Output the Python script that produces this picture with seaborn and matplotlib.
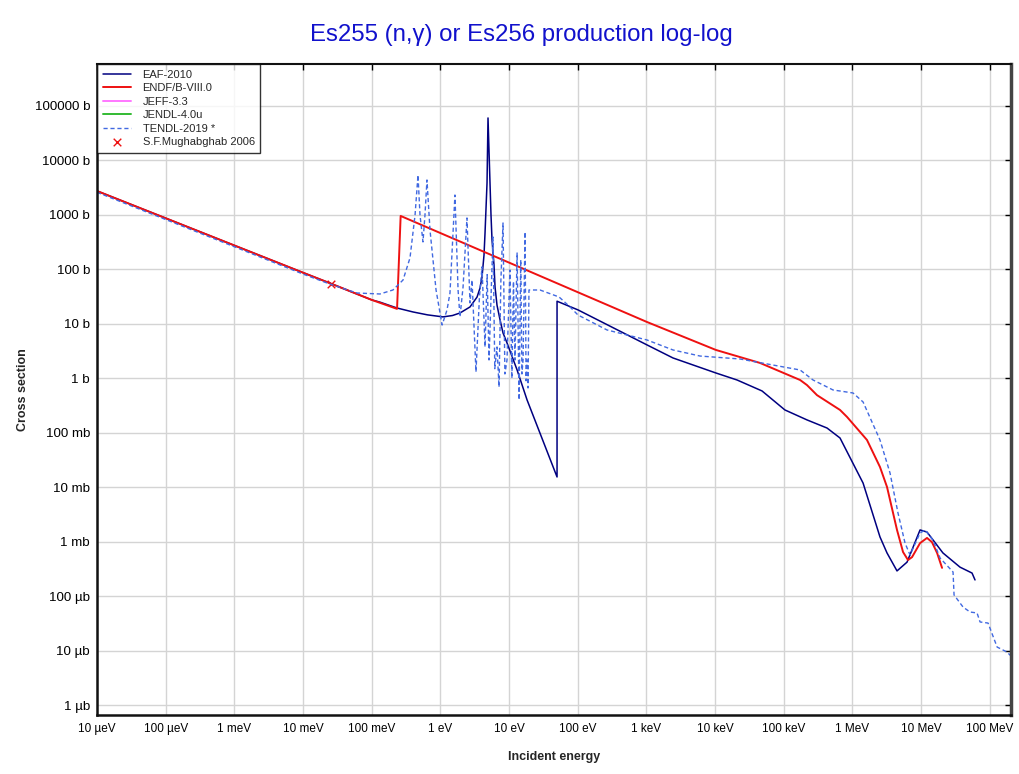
import numpy as np
import pandas as pd
import seaborn as sns
import matplotlib
matplotlib.use("Agg")
import matplotlib.pyplot as plt
import matplotlib.lines as mlines

# energies in eV, cross sections in barns
eaf_e = [1e-5, 1e-4, 1e-3, 1e-2, 0.0253, 0.1, 0.132, 0.234, 0.40, 0.65, 1.09, 1.5, 1.93, 2.70,
         3.42, 3.78, 4.04, 4.32, 4.47, 4.78, 4.94, 5.28, 5.46, 5.65, 6.04, 6.25, 6.68, 7.40,
         8.17, 9.35, 13.1, 18.3, 50.0, 50.0, 101, 1020, 2440, 10300, 20900, 48300, 1.04e5,
         2.18e5, 4.27e5, 6.6e5, 1.43e6, 2.52e6, 3.19e6, 4.46e6, 6.24e6, 9.66e6, 1.22e7,
         2.08e7, 3.69e7, 5.52e7, 6.1e7]
eaf_xs = [2750, 870, 275, 87, 55, 27.5, 25, 19.5, 16.5, 14.6, 13.4, 14.2, 15.8, 20.4,
          31, 45.5, 72, 184, 466, 3860, 60300, 3860, 1000, 347, 120, 47.5, 22, 11.8,
          6.8, 4.45, 1.42, 0.40, 0.0154, 26, 18, 4.1, 2.36, 1.25, 0.93, 0.585, 0.262,
          0.172, 0.122, 0.080, 0.0119, 1.22e-3, 6.2e-4, 2.9e-4, 4.2e-4, 1.64e-3, 1.5e-3,
          6.2e-4, 3.4e-4, 2.65e-4, 1.98e-4]

endf_e = [1e-5, 1e-4, 1e-3, 1e-2, 0.0253, 0.1, 0.234, 0.264, 1020, 10300, 45200, 1.73e5,
          2.18e5, 3.05e5, 6.6e5, 8.35e5, 1.63e6, 2.52e6, 3.19e6, 4.46e6, 5.46e6, 6.45e6,
          7.39e6, 9.66e6, 1.22e7, 1.44e7, 1.71e7, 2.02e7]
endf_xs = [2750, 870, 275, 87, 55, 27.5, 18.8, 957, 10.8, 3.31, 1.91, 0.93,
           0.75, 0.49, 0.262, 0.195, 0.0736, 0.0235, 0.0101, 1.64e-3, 6.45e-4, 4.6e-4,
           5.2e-4, 9.4e-4, 1.17e-3, 9.8e-4, 6.2e-4, 3.3e-4]

tendl_e = [1e-5, 1e-4, 1e-3, 1e-2, 0.0253, 0.0611, 0.132, 0.204, 0.286, 0.361, 0.428, 0.472,
           0.505, 0.558, 0.597, 0.638, 0.706, 0.865, 1.06, 1.25, 1.38, 1.63, 1.81, 1.93, 2.14,
           2.44, 2.70, 2.89, 3.30, 3.7, 4.04, 4.47, 4.8, 5.11, 5.5, 5.84, 6.2, 6.68, 7.15, 7.6,
           8.17, 8.7, 9.34, 10.3, 11.0, 11.6, 12.2, 13.1, 14.0, 14.8, 15.4, 16.0, 17.1, 17.7,
           18.3, 18.9, 19.5, 28.2, 53.5, 77.3, 101, 267, 1020, 2440,
           6040, 23100, 69800, 1.73e5, 2.67e5, 5.22e5, 1.02e6, 1.43e6, 2.52e6, 3.53e6, 4.61e6,
           5.84e6, 6.90e6, 9.66e6, 1.14e7, 1.49e7, 1.89e7, 2.92e7, 3.02e7, 4.08e7, 5.16e7,
           6.53e7, 7.22e7, 9.44e7, 1.28e8, 1.78e8, 2.11e8]
tendl_xs = [2600, 823, 260, 82, 53, 36.8, 35.3, 41.8, 63.8, 162, 998, 5400,
            998, 319, 998, 4380, 528, 41.8, 9.5, 18, 36.8, 2320, 41.8, 13.4, 47.5,
            879, 24.2, 63.8, 1.31, 30, 111, 3.76, 80, 2.17, 40, 393, 1.5, 3.76, 0.692, 60,
            711, 1.2, 2.17, 97.5, 1.0, 60, 2.17, 200, 0.40, 150, 1.2, 2.17, 486, 0.9,
            2.17, 0.664, 41.8, 41.8, 31.1, 20.4, 14.5, 7.71, 5.05, 3.31,
            2.56, 2.26, 1.75, 1.42, 0.93, 0.61, 0.537, 0.367, 0.0736, 0.0182, 3.36e-3,
            9.4e-4, 5.7e-4, 1.44e-3, 1.64e-3, 1.07e-3, 5.0e-4, 2.77e-4, 1.05e-4, 6.3e-5, 5.1e-5,
            4.9e-5, 3.35e-5, 3.2e-5, 1.16e-5, 9.4e-6, 7.6e-6]

mugh_e = [0.0253]
mugh_xs = [54]

x_ticks = [1e-5, 1e-4, 1e-3, 1e-2, 1e-1, 1, 10, 100, 1e3, 1e4, 1e5, 1e6, 1e7, 1e8]
x_labels = ["10 µeV", "100 µeV", "1 meV", "10 meV", "100 meV", "1 eV", "10 eV", "100 eV",
            "1 keV", "10 keV", "100 keV", "1 MeV", "10 MeV", "100 MeV"]
y_ticks = [1e-6, 1e-5, 1e-4, 1e-3, 1e-2, 1e-1, 1, 10, 100, 1e3, 1e4, 1e5]
y_labels = ["1 µb", "10 µb", "100 µb", "1 mb", "10 mb", "100 mb", "1 b", "10 b", "100 b",
            "1000 b", "10000 b", "100000 b"]

sns.set_style("white")
plt.rcParams['font.family'] = ['Liberation Sans', 'DejaVu Sans']

fig = plt.figure(figsize=(10.2, 7.74), dpi=100)
ax = fig.add_axes([0.0951, 0.0762, 0.8961, 0.8411])
ax.set_xscale('log')
ax.set_yscale('log')

sns.lineplot(x=eaf_e, y=eaf_xs, sort=False, estimator=None, color='#000080', lw=1.1,
             label='EAF-2010', ax=ax)
sns.lineplot(x=endf_e, y=endf_xs, sort=False, estimator=None, color='#ee1111', lw=1.4,
             label='ENDF/B-VIII.0', ax=ax)
ax.plot([], [], color='#ff77ff', lw=1.4, label='JEFF-3.3')
ax.plot([], [], color='#33bb33', lw=1.4, label='JENDL-4.0u')
sns.lineplot(x=tendl_e, y=tendl_xs, sort=False, estimator=None, color='#4169e1', lw=1.0,
             label='TENDL-2019 *', ax=ax)
ax.lines[-1].set_dashes([3, 2])
sns.scatterplot(x=mugh_e, y=mugh_xs, marker='x', color='#ee1111', s=30, linewidth=1,
                label='S.F.Mughabghab 2006', ax=ax)

ax.set_xlim(1e-5, 2.04e8)
ax.set_ylim(6.55e-7, 5.9e5)
ax.set_xticks(x_ticks)
ax.set_xticklabels(x_labels)
ax.set_yticks(y_ticks)
ax.set_yticklabels(y_labels)
ax.minorticks_off()
ax.grid(True, color='#d4d4d4', lw=1)
ax.tick_params(axis='both', direction='inout', length=8, width=1, colors='black', pad=2)
ax.tick_params(axis='x', labelsize=8.5)
ax.tick_params(axis='y', labelsize=9.6, pad=1)
ax.tick_params(top=True, right=True, labeltop=False, labelright=False)

# ticks on the top and right spines point inward only
for t in ax.xaxis.get_major_ticks():
    t.tick2line.set_marker(mlines.TICKDOWN)
    t.tick2line.set_markersize(4)
for t in ax.yaxis.get_major_ticks():
    t.tick2line.set_marker(mlines.TICKLEFT)
    t.tick2line.set_markersize(4)

for side, w in [('left', 1.8), ('bottom', 1.8), ('top', 1.5), ('right', 2.5)]:
    ax.spines[side].set_visible(True)
    ax.spines[side].set_linewidth(w)
    ax.spines[side].set_color('#111111' if side != 'right' else '#444444')

ax.set_xlabel('Incident energy', fontsize=9, fontweight='bold', labelpad=11)
ax.set_ylabel('Cross section', fontsize=9, fontweight='bold', labelpad=4)
fig.text(0.511, 0.955, 'Es255 (n,γ) or Es256 production log-log', color='#1111cc',
         fontsize=17.3, ha='center', va='center')

leg = ax.legend(loc='upper left', fontsize=8, frameon=True, fancybox=False,
                borderaxespad=0, handlelength=2.6, handletextpad=1.0, labelspacing=0.32,
                borderpad=0.5)
leg.get_frame().set_edgecolor('black')
leg.get_frame().set_linewidth(1)

fig.savefig('out.png', dpi=100)
